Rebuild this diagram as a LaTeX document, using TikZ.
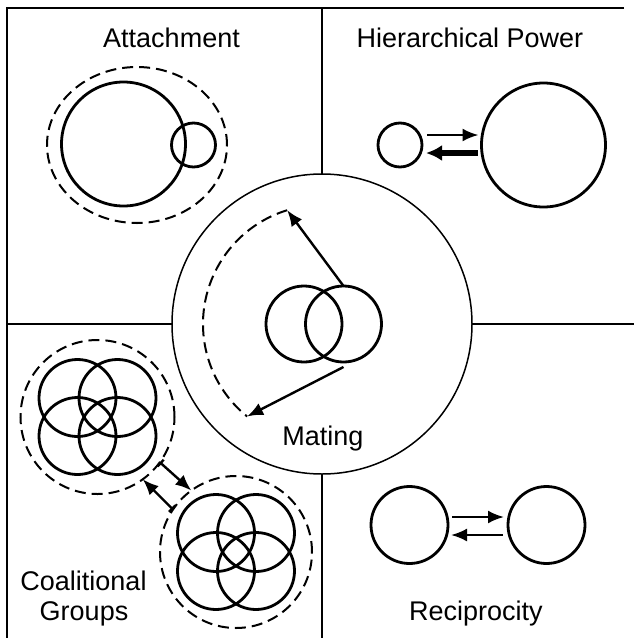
\documentclass[tikz,border=0pt]{standalone}
\usepackage{fontspec}
\setmainfont{Liberation Sans}
\usetikzlibrary{arrows.meta,positioning,calc,shapes.geometric}

\begin{document}
\begin{tikzpicture}[x=1pt,y=-1pt,
  every node/.style={inner sep=0pt,outer sep=0pt},
  ring/.style={circle,draw,line width=2.8pt,minimum size=#1},
  dashring/.style={circle,draw,line width=2pt,dash pattern=on 11pt off 6pt,minimum size=#1},
  thinarrow/.style={line width=2.4pt,-{Latex[length=16pt,width=13pt]}},
  thickarrow/.style={line width=6pt,-{Latex[length=16pt,width=16pt]}},
  cgarrow/.style={line width=2.4pt,{Bar[width=9pt,line width=2.4pt]}-{Latex[length=16pt,width=13pt]}},
  lbl/.style={font=\fontsize{27}{30}\selectfont,anchor=base}]
\useasboundingbox (0,0) rectangle (634,638);

% frame and dividers
\coordinate (tl) at (7,8);
\draw[line width=1.6pt] (624,8) -- (tl) -- (7,638);
\node[circle,draw,line width=1.5pt,minimum size=300pt] (mate-ring) at (322,324) {};
\draw[line width=1.6pt] (322,8) -- (mate-ring.north);
\draw[line width=1.6pt] (7,324) -- (mate-ring.west);
\draw[line width=1.6pt] (mate-ring.east) -- (634,324);
\draw[line width=1.6pt] (mate-ring.south) -- (322,638);

% attachment
\node[lbl] (att-lbl) at (171.5,47) {Attachment};
\node[ellipse,draw,line width=2pt,dash pattern=on 11pt off 6pt,
  minimum width=180pt,minimum height=156pt] (att-ring) at (137,145) {};
\node[ring=124pt] (att-big) at (123.5,144) {};
\node[ring=44pt] (att-small) at (193.5,145) {};

% hierarchical power
\node[lbl] (hp-lbl) at (470,47) {Hierarchical Power};
\node[ring=44pt] (hp-small) at (400,145) {};
\node[ring=124pt] (hp-big) at (543.5,145) {};
\draw[thinarrow] ([shift={(5pt,10pt)}]hp-small.east) -- ([shift={(-3pt,10pt)}]hp-big.west);
\draw[thickarrow] ([shift={(-4pt,-8pt)}]hp-big.west) -- ([shift={(4pt,-8pt)}]hp-small.east);

% mating
\node[ring=76pt] (mate-l) at (304,324) {};
\node[ring=76pt] (mate-r) at (343.5,324) {};
\coordinate (arc-top) at ($(mate-ring.center)+(253:119)$);
\coordinate (arc-bot) at ($(mate-ring.center)+(129:119)$);
\draw[line width=2pt,dash pattern=on 11pt off 6pt] (arc-top) arc[start angle=253,end angle=129,radius=119];
\draw[thinarrow] (mate-r.north) -- (arc-top);
\draw[thinarrow] ([yshift=-5pt]mate-r.south) -- (arc-bot);
\node[lbl] (mate-lbl) at (323,445) {Mating};

% coalitional groups
\node[dashring=154pt] (cg-a) at (97.5,417) {};
\node[dashring=152pt] (cg-b) at (236,552) {};
\foreach \dx/\dy in {-20/-19,20/-19,-20/19,20/19} {
  \draw[line width=2.8pt] ($(cg-a.center)+(\dx,\dy)$) circle[radius=38.5];
  \draw[line width=2.8pt] ($(cg-b.center)+(\dx,\dy)$) circle[radius=38.5];
}
\draw[cgarrow] (cg-a.-36) -- (cg-b.126);
\draw[cgarrow] (cg-b.146) -- (cg-a.-54);
\node[lbl] (cg-lbl1) at (83.5,590) {Coalitional};
\node[lbl] (cg-lbl2) at (84,620) {Groups};

% reciprocity
\node[ring=77pt] (rec-l) at (409.5,525) {};
\node[ring=77pt] (rec-r) at (546.5,525) {};
\draw[thinarrow] ([shift={(4pt,8pt)}]rec-l.east) -- ([shift={(-4pt,8pt)}]rec-r.west);
\draw[thinarrow] ([shift={(-5pt,-10pt)}]rec-r.west) -- ([shift={(3pt,-10pt)}]rec-l.east);
\node[lbl] (rec-lbl) at (476,620) {Reciprocity};
\end{tikzpicture}
\end{document}
